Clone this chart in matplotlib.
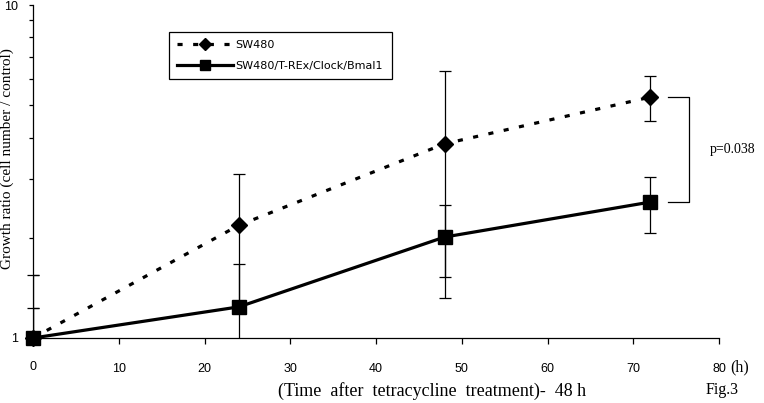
import numpy as np
import matplotlib
matplotlib.use('Agg')
import matplotlib.pyplot as plt
from matplotlib.ticker import FixedLocator, NullFormatter

# data
hours = [0, 24, 48, 72]
sw480 = [1.0, 2.18, 3.83, 5.29]
sw480_err_lo = [0.0, 0.93, 2.51, 0.82]
sw480_err_hi = [0.55, 0.93, 2.51, 0.82]
clock = [1.0, 1.24, 2.01, 2.56]
clock_err_lo = [0.0, 0.43, 0.49, 0.49]
clock_err_hi = [0.23, 0.43, 0.49, 0.49]
x_ticks = [10, 20, 30, 40, 50, 60, 70, 80]
x_tick_labels = ['10', '20', '30', '40', '50', '60', '70', '80']
y_major = [1, 10]
y_minor = [2, 3, 4, 5, 6, 7, 8, 9]
p_text = 'p=0.038'

W, H = 764, 403
fig = plt.figure(figsize=(W / 100, H / 100), dpi=100)
ax = fig.add_axes([33 / W, 1 - 338 / H, (719 - 33) / W, (338 - 5) / H])

sans = ['Liberation Sans', 'DejaVu Sans']
serif = ['Liberation Serif', 'DejaVu Serif']

# error bars first, markers on top
for y, lo, hi in [(sw480, sw480_err_lo, sw480_err_hi), (clock, clock_err_lo, clock_err_hi)]:
    ax.errorbar(hours, y, yerr=[lo, hi], fmt='none', ecolor='black',
                elinewidth=0.9, capsize=4, capthick=0.9, zorder=2)
    # the caps at t=0 sit on the y axis and show on both sides of it
    ax.plot([hours[0]], [y[0] + hi[0]], marker='_', markersize=8, mew=0.9,
            color='black', clip_on=False, zorder=2)

ax.plot(hours, sw480, color='black', lw=2.3, linestyle=(0, (1.6, 3.3)),
        marker='D', markersize=8.5, label='SW480', zorder=3, clip_on=False)
ax.plot(hours, clock, color='black', lw=2.3, linestyle='-',
        marker='s', markersize=10, label='SW480/T-REx/Clock/Bmal1', zorder=4, clip_on=False)

ax.set_yscale('log')
ax.set_ylim(1, 10)
ax.set_xlim(0, 80)

ax.spines['top'].set_visible(False)
ax.spines['right'].set_visible(False)
for s in ['left', 'bottom']:
    ax.spines[s].set_linewidth(0.9)

ax.yaxis.set_major_locator(FixedLocator(y_major))
ax.set_yticklabels(['1', '10'], family=sans, fontsize=9)
ax.yaxis.set_minor_locator(FixedLocator(y_minor))
ax.yaxis.set_minor_formatter(NullFormatter())
ax.tick_params(axis='y', which='major', length=3, width=0.9, pad=8)
ax.tick_params(axis='y', which='minor', length=3, width=0.9)

ax.set_xticks(x_ticks)
ax.set_xticklabels(x_tick_labels, family=sans, fontsize=9)
ax.tick_params(axis='x', which='major', length=4, width=0.9, pad=14)
ax.text(0, -0.087, '0', transform=ax.get_xaxis_transform(), ha='center', va='center',
        family=sans, fontsize=9)

ax.set_ylabel('Growth ratio (cell number / control)', family=serif, fontsize=11)
ax.yaxis.set_label_coords(-0.028, 0.54)

# significance bracket between final points
ax.plot([74.0, 76.5, 76.5, 74.0], [sw480[-1], sw480[-1], clock[-1], clock[-1]],
        color='black', lw=0.9, clip_on=False)
fig.text(710 / W, 1 - 150 / H, p_text, family=serif, fontsize=10, va='center', ha='left')

fig.text(730 / W, 1 - 367 / H, '(h)', family=serif, fontsize=11.5, va='center', ha='left')
fig.text(432 / W, 1 - 391 / H, '(Time  after  tetracycline  treatment)-  48 h', family=serif,
         fontsize=13, va='center', ha='center')
fig.text(722 / W, 1 - 390 / H, 'Fig.3', family=serif, fontsize=11.5, va='center', ha='center')

leg = ax.legend(loc='upper left', bbox_to_anchor=(169 / W, 1 - 32 / H),
                bbox_transform=fig.transFigure, borderaxespad=0, fancybox=False,
                edgecolor='black', framealpha=1, markerscale=0.7, handlelength=5.0,
                handletextpad=0.25, borderpad=0.75, labelspacing=0.95,
                prop={'family': 'DejaVu Sans', 'size': 8})
leg.get_frame().set_linewidth(0.9)

fig.savefig('out.png', dpi=100)
